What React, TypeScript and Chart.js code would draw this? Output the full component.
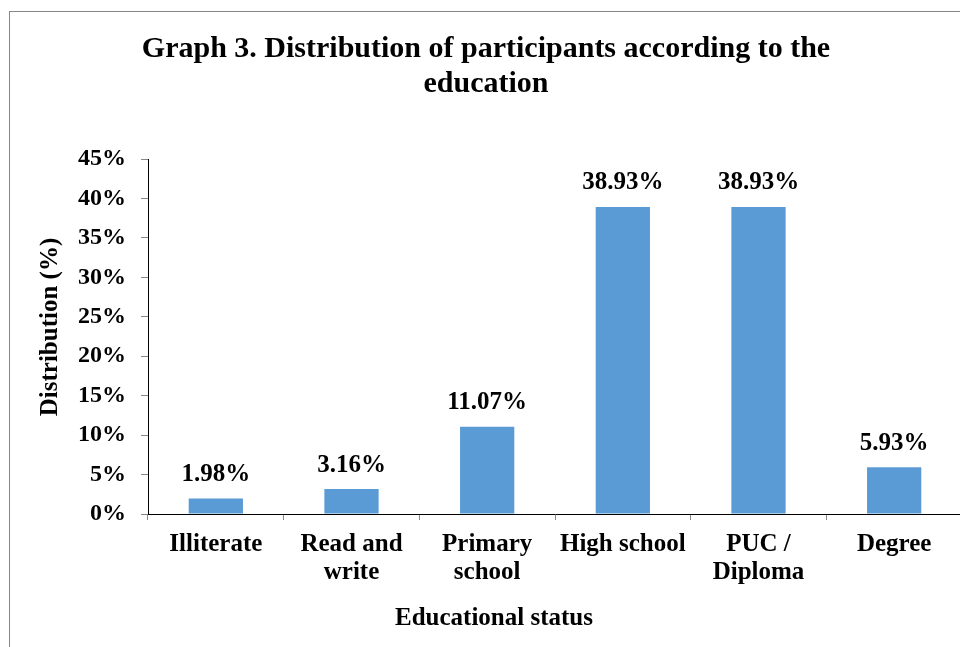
import React, { useEffect, useRef } from "react";
import { Chart, registerables } from "chart.js";

Chart.register(...registerables);

const categories: (string | string[])[] = [
  "Illiterate",
  ["Read and", "write"],
  ["Primary", "school"],
  "High school",
  ["PUC /", "Diploma"],
  "Degree",
];
const distribution: number[] = [1.98, 3.16, 11.07, 38.93, 38.93, 5.93];
const titleLines: string[] = [
  "Graph 3. Distribution of participants according to the",
  "education",
];
const xAxisTitle = "Educational status";
const yAxisTitle = "Distribution (%)";

const SERIF = "'Times New Roman', 'Liberation Serif', serif";
const BAR_COLOR = "#5B9BD5";

// Draws value labels over the bars and the two axis titles.
const annotations = {
  id: "annotations",
  afterDatasetsDraw(chart: Chart) {
    const ctx = chart.ctx;
    const meta = chart.getDatasetMeta(0);
    ctx.save();
    ctx.fillStyle = "#000";
    ctx.font = `bold 25px ${SERIF}`;
    ctx.textAlign = "center";
    ctx.textBaseline = "middle";
    meta.data.forEach((bar: any, i: number) => {
      const v = distribution[i];
      ctx.fillText(v.toFixed(2) + "%", bar.x, bar.y - 24);
    });

    ctx.font = `bold 25px ${SERIF}`;
    ctx.fillText(xAxisTitle, 484, 607);

    ctx.translate(41, 315);
    ctx.rotate(-Math.PI / 2);
    ctx.fillText(yAxisTitle, 0, 0);
    ctx.restore();
  },
};

export default function App() {
  const canvasRef = useRef<HTMLCanvasElement | null>(null);

  useEffect(() => {
    if (!canvasRef.current) return;
    const chart = new Chart(canvasRef.current, {
      type: "bar",
      data: {
        labels: categories,
        datasets: [
          {
            data: distribution,
            backgroundColor: BAR_COLOR,
            borderWidth: 0,
            categoryPercentage: 1,
            barPercentage: 0.4,
          },
        ],
      },
      options: {
        animation: false,
        responsive: false,
        maintainAspectRatio: false,
        layout: { padding: 0 },
        plugins: {
          legend: { display: false },
          tooltip: { enabled: false },
          title: {
            display: true,
            text: titleLines,
            color: "#000",
            font: { family: SERIF, size: 30, weight: "bold", lineHeight: 35 / 30 },
            padding: { top: 20, bottom: 57 },
          },
        },
        scales: {
          x: {
            offset: true,
            grid: {
              display: true,
              drawOnChartArea: false,
              offset: true,
              tickLength: 6,
              color: "#888",
            },
            border: { display: true, color: "#000", width: 1 },
            ticks: {
              color: "#000",
              padding: 11,
              maxRotation: 0,
              autoSkip: false,
              font: { family: SERIF, size: 25, weight: "bold", lineHeight: 28 / 25 },
            },
            afterFit: (scale: any) => {
              scale.height = 134;
            },
          },
          y: {
            min: 0,
            max: 45,
            grid: {
              display: true,
              drawOnChartArea: false,
              tickLength: 7,
              color: "#888",
            },
            border: { display: true, color: "#000", width: 1 },
            ticks: {
              stepSize: 5,
              color: "#000",
              padding: 15,
              font: { family: SERIF, size: 24, weight: "bold" },
              callback: (v: any) => `${v}%`,
            },
            afterFit: (scale: any) => {
              scale.width = 138;
            },
          },
        },
      },
      plugins: [annotations],
    });
    return () => chart.destroy();
  }, []);

  return (
    <div
      style={{
        position: "fixed",
        inset: 0,
        overflow: "hidden",
        background: "#fff",
      }}
    >
      <div
        style={{
          position: "absolute",
          left: 9,
          top: 11,
          width: 953,
          height: 640,
          borderTop: "1px solid #868686",
          borderLeft: "1px solid #868686",
        }}
      >
        <canvas
          ref={canvasRef}
          width={952}
          height={636}
          style={{ display: "block", width: 952, height: 636 }}
        />
      </div>
    </div>
  );
}
